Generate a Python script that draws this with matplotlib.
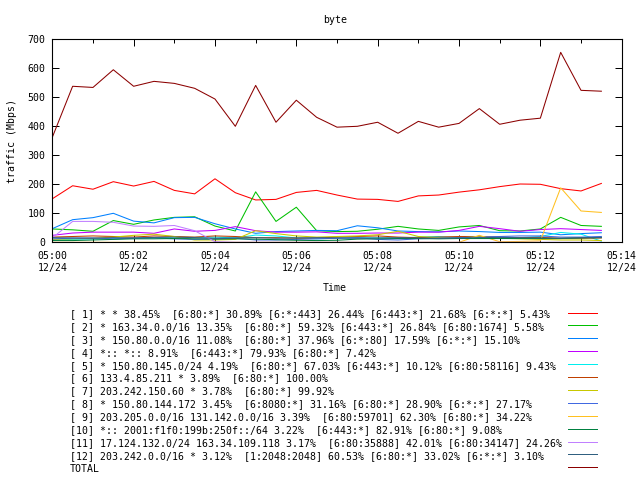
import matplotlib
matplotlib.use("Agg")
import matplotlib.pyplot as plt
from matplotlib.lines import Line2D

plt.rcParams['font.family'] = ['DejaVu Sans Mono']

# time in minutes after 05:00 (samples every 30 s)
minutes = [0, 0.5, 1, 1.5, 2, 2.5, 3, 3.5, 4, 4.5, 5, 5.5, 6, 6.5,
           7, 7.5, 8, 8.5, 9, 9.5, 10, 10.5, 11, 11.5, 12, 12.5, 13, 13.5]

s1 = [150, 195, 183, 209, 194, 210, 179, 167, 219, 171, 146, 148, 172, 179,
      163, 149, 148, 141, 160, 163, 173, 181, 192, 201, 200, 185, 177, 203]
s2 = [46, 43, 38, 75, 62, 77, 86, 88, 56, 39, 174, 72, 121, 40,
      37, 38, 45, 55, 46, 41, 53, 58, 40, 39, 46, 86, 58, 55]
s3 = [47, 78, 85, 100, 73, 67, 85, 86, 64, 46, 31, 37, 39, 41,
      40, 57, 50, 39, 37, 36, 39, 37, 34, 34, 35, 26, 30, 33]
s4 = [24, 32, 35, 35, 35, 31, 46, 38, 41, 54, 40, 35, 35, 36,
      31, 31, 32, 32, 35, 35, 41, 55, 47, 38, 44, 47, 44, 41]
s5 = [8, 10, 12, 12, 14, 16, 18, 17, 18, 15, 25, 22, 15, 12,
      14, 16, 15, 14, 18, 20, 16, 17, 18, 16, 20, 34, 28, 4]
s6 = [18, 20, 22, 20, 18, 22, 20, 18, 22, 20, 16, 16, 14, 15,
      18, 20, 22, 18, 16, 18, 20, 20, 18, 16, 17, 14, 14, 15]
s7 = [10, 12, 14, 18, 24, 28, 20, 8, 8, 10, 40, 30, 22, 18,
      20, 22, 26, 38, 20, 16, 15, 20, 14, 12, 10, 8, 8, 6]
s8 = [12, 14, 15, 12, 14, 15, 12, 10, 12, 14, 8, 8, 10, 12,
      14, 16, 10, 8, 12, 14, 16, 18, 20, 22, 22, 18, 18, 20]
s9 = [0, 0, 0, 0, 0, 0, 0, 0, 0, 0, 0, 0, 0, 0,
      0, 0, 0, 0, 0, 0, 0, 24, 2, 3, 5, 188, 108, 103]
s10 = [6, 6, 8, 10, 12, 12, 13, 12, 11, 12, 11, 9, 7, 6,
       7, 11, 12, 13, 13, 12, 13, 13, 13, 13, 13, 13, 15, 16]
s11 = [15, 72, 72, 69, 56, 55, 58, 40, 2, 0, 0, 0, 0, 0,
       0, 0, 0, 0, 0, 0, 0, 0, 0, 0, 0, 0, 0, 0]
s12 = [16, 15, 14, 16, 15, 17, 18, 16, 14, 15, 16, 14, 15, 16,
       15, 14, 15, 16, 15, 14, 15, 16, 17, 16, 15, 14, 16, 17]
total = [362, 538, 534, 595, 538, 555, 548, 531, 494, 400, 541, 414, 490, 431,
         397, 400, 414, 376, 417, 397, 410, 461, 407, 421, 428, 655, 524, 521]

series = [s1, s2, s3, s4, s5, s6, s7, s8, s9, s10, s11, s12, total]
colors = ['#ff0000', '#00c000', '#0080ff', '#c000ff', '#00eeee', '#c04000',
          '#c8c800', '#4169e1', '#ffc020', '#008040', '#c080ff', '#306080',
          '#8b0000']
labels = [
    "[ 1] * * 38.45%  [6:80:*] 30.89% [6:*:443] 26.44% [6:443:*] 21.68% [6:*:*] 5.43%",
    "[ 2] * 163.34.0.0/16 13.35%  [6:80:*] 59.32% [6:443:*] 26.84% [6:80:1674] 5.58%",
    "[ 3] * 150.80.0.0/16 11.08%  [6:80:*] 37.96% [6:*:80] 17.59% [6:*:*] 15.10%",
    "[ 4] *:: *:: 8.91%  [6:443:*] 79.93% [6:80:*] 7.42%",
    "[ 5] * 150.80.145.0/24 4.19%  [6:80:*] 67.03% [6:443:*] 10.12% [6:80:58116] 9.43%",
    "[ 6] 133.4.85.211 * 3.89%  [6:80:*] 100.00%",
    "[ 7] 203.242.150.60 * 3.78%  [6:80:*] 99.92%",
    "[ 8] * 150.80.144.172 3.45%  [6:8080:*] 31.16% [6:80:*] 28.90% [6:*:*] 27.17%",
    "[ 9] 203.205.0.0/16 131.142.0.0/16 3.39%  [6:80:59701] 62.30% [6:80:*] 34.22%",
    "[10] *:: 2001:f1f0:199b:250f::/64 3.22%  [6:443:*] 82.91% [6:80:*] 9.08%",
    "[11] 17.124.132.0/24 163.34.109.118 3.17%  [6:80:35888] 42.01% [6:80:34147] 24.26%",
    "[12] 203.242.0.0/16 * 3.12%  [1:2048:2048] 60.53% [6:80:*] 33.02% [6:*:*] 3.10%",
    "TOTAL",
]
xtick_pos = [0, 2, 4, 6, 8, 10, 12, 14]
xtick_labels = ["05:00\n12/24", "05:02\n12/24", "05:04\n12/24", "05:06\n12/24",
                "05:08\n12/24", "05:10\n12/24", "05:12\n12/24", "05:14\n12/24"]
yticks = [0, 100, 200, 300, 400, 500, 600, 700]

W, H = 640, 480
fig = plt.figure(figsize=(6.4, 4.8), dpi=100)
ax = fig.add_axes([52.3 / W, 1 - 242.3 / H, (621.7 - 52.3) / W, (242.3 - 39.3) / H])

for ys, c in zip(series, colors):
    ax.plot(minutes, ys, color=c, lw=0.75, antialiased=True)

fs = 7.15
ax.set_xlim(0, 14)
ax.set_ylim(0, 700)
ax.set_xticks(xtick_pos)
ax.set_xticklabels(xtick_labels, fontsize=fs, linespacing=1.25)
ax.set_xticks(list(range(0, 15)), minor=True)
ax.set_yticks(yticks)
ax.set_yticklabels([str(v) for v in yticks], fontsize=fs)
ax.tick_params(which='major', direction='in', top=True, right=True,
               length=5, width=0.72, pad=6, color='black')
ax.tick_params(which='minor', direction='in', top=True, right=True,
               length=3, width=0.72)
ax.tick_params(axis='y', pad=5)
for sp in ax.spines.values():
    sp.set_linewidth(0.8)

fig.text(335 / W, 1 - 20 / H, "byte", ha='center', va='center', fontsize=fs)
fig.text(12 / W, 1 - 141 / H, "traffic (Mbps)", rotation=90, ha='center',
         va='center', fontsize=fs)
fig.text(335 / W, 1 - 288 / H, "Time", ha='center', va='center', fontsize=fs)

y0 = 314.0
dy = 12.9
for i, (lab, c) in enumerate(zip(labels, colors)):
    yy = y0 + i * dy
    fig.text(70 / W, 1 - yy / H, lab, ha='left', va='center', fontsize=fs)
    fig.add_artist(Line2D([568 / W, 597 / W], [1 - (yy - 1.5) / H] * 2,
                          color=c, lw=0.72, antialiased=False,
                          transform=fig.transFigure))

fig.savefig("out.png", dpi=100)
